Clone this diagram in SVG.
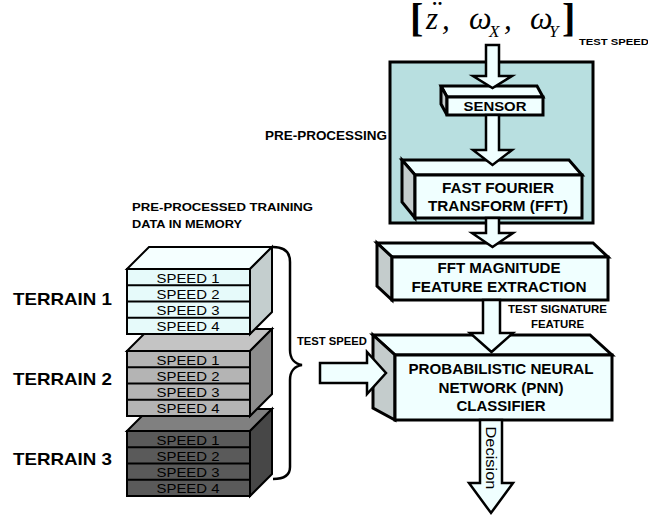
<svg xmlns="http://www.w3.org/2000/svg" width="648" height="518" viewBox="0 0 648 518">
<style>
.t{font-family:"Liberation Sans",Arial,sans-serif;fill:#000}
.b{font-weight:bold}
.m{font-family:"Liberation Serif","Times New Roman",serif;font-style:italic;fill:#000}
.br{font-family:"Liberation Serif","Times New Roman",serif;font-style:normal;font-weight:bold;fill:#000}
.box{stroke:#000;stroke-width:3;stroke-linejoin:miter}
.front{fill:#f0ffff}
.side{fill:#c4cccc}
.arr{fill:#f0ffff;stroke:#000;stroke-width:2.5;stroke-linejoin:miter}
.stk{stroke:#000;stroke-width:2;stroke-linejoin:miter}
.sp{font-family:"Liberation Sans",Arial,sans-serif;font-size:13px;text-anchor:middle;fill:#000}
</style>
<rect width="648" height="518" fill="#fff"/>

<!-- formula -->
<g id="formula">
<text class="br" x="410" y="31" font-size="40">[</text>
<text class="m" x="426" y="29" font-size="31">z</text>
<text class="m" x="430" y="23" font-size="31">¨</text>
<text class="m" x="442" y="29" font-size="31">,</text>
<text class="m" x="469" y="29" font-size="32">ω</text>
<text class="m" x="489" y="37" font-size="17">X</text>
<text class="m" x="504" y="29" font-size="31">,</text>
<text class="m" x="530" y="29" font-size="32">ω</text>
<text class="m" x="549" y="37" font-size="17">Y</text>
<text class="br" x="562" y="31" font-size="40">]</text>
<text class="t b" x="579" y="45" font-size="9" textLength="70" lengthAdjust="spacingAndGlyphs">TEST SPEED</text>
</g>

<!-- pre-processing container -->
<g id="preprocessing">
<rect x="390" y="62" width="203" height="161" fill="#b8dfe0" stroke="#000" stroke-width="3"/>
<text class="t b" x="265" y="140" font-size="13" textLength="122" lengthAdjust="spacingAndGlyphs">PRE-PROCESSING</text>
</g>

<!-- sensor -->
<g id="sensor">
<polygon class="box front" points="441,86 537,86 543,97 447,97"/>
<polygon class="box side" points="441,86 447,97 447,115 441,104"/>
<rect class="box front" x="447" y="97" width="96" height="18"/>
<text class="t b" x="495" y="111" font-size="13" text-anchor="middle" textLength="63" lengthAdjust="spacingAndGlyphs">SENSOR</text>
</g>

<!-- FFT -->
<g id="fft">
<polygon class="box front" points="402,160 569,160 582,175 415,175"/>
<polygon class="box side" points="402,160 415,175 415,218 402,202"/>
<rect class="box front" x="415" y="175" width="167" height="43"/>
<text class="t b" x="498" y="193" font-size="14" text-anchor="middle" textLength="112" lengthAdjust="spacingAndGlyphs">FAST FOURIER</text>
<text class="t b" x="498" y="211" font-size="14" text-anchor="middle" textLength="140" lengthAdjust="spacingAndGlyphs">TRANSFORM (FFT)</text>
</g>

<!-- FFT magnitude -->
<g id="fftmag">
<polygon class="box front" points="377,243 593,243 608,257 392,257"/>
<polygon class="box side" points="377,243 392,257 392,300 377,286"/>
<rect class="box front" x="392" y="257" width="216" height="43"/>
<text class="t b" x="499" y="273" font-size="14" text-anchor="middle" textLength="123" lengthAdjust="spacingAndGlyphs">FFT MAGNITUDE</text>
<text class="t b" x="499" y="292" font-size="14" text-anchor="middle" textLength="175" lengthAdjust="spacingAndGlyphs">FEATURE EXTRACTION</text>
<text class="t b" x="557.5" y="313" font-size="10" text-anchor="middle" textLength="99" lengthAdjust="spacingAndGlyphs">TEST SIGNATURE</text>
<text class="t b" x="557.5" y="328" font-size="10" text-anchor="middle" textLength="53" lengthAdjust="spacingAndGlyphs">FEATURE</text>
</g>

<!-- PNN -->
<g id="pnn">
<polygon class="box front" points="373,335 590,335 612,355 395,355"/>
<polygon class="box side" points="373,335 395,355 395,420 373,408"/>
<rect class="box front" x="395" y="355" width="217" height="65"/>
<text class="t b" x="501" y="374" font-size="14" text-anchor="middle" textLength="185" lengthAdjust="spacingAndGlyphs">PROBABILISTIC NEURAL</text>
<text class="t b" x="501" y="393" font-size="14" text-anchor="middle" textLength="125" lengthAdjust="spacingAndGlyphs">NETWORK (PNN)</text>
<text class="t b" x="501" y="411" font-size="14" text-anchor="middle" textLength="89" lengthAdjust="spacingAndGlyphs">CLASSIFIER</text>
</g>

<!-- training data stacks -->
<g id="training">
<text class="t b" x="132" y="211" font-size="11" textLength="181" lengthAdjust="spacingAndGlyphs">PRE-PROCESSED TRAINING</text>
<text class="t b" x="132" y="228" font-size="11" textLength="110" lengthAdjust="spacingAndGlyphs">DATA IN MEMORY</text>
</g>

<g id="terrain3">
<polygon class="stk" fill="#808080" points="127,431 149,409 272,409 250,431"/>
<polygon class="stk" fill="#474747" points="250,431 272,409 272,474 250,496"/>
<rect class="stk" x="127" y="431" width="123" height="65" fill="#5a5a5a"/>
<line class="stk" x1="127" y1="447.25" x2="250" y2="447.25"/>
<line class="stk" x1="127" y1="463.5" x2="250" y2="463.5"/>
<line class="stk" x1="127" y1="479.75" x2="250" y2="479.75"/>
<text class="sp" x="188" y="444.5" textLength="63" lengthAdjust="spacingAndGlyphs">SPEED 1</text>
<text class="sp" x="188" y="460.75" textLength="63" lengthAdjust="spacingAndGlyphs">SPEED 2</text>
<text class="sp" x="188" y="477" textLength="63" lengthAdjust="spacingAndGlyphs">SPEED 3</text>
<text class="sp" x="188" y="493.25" textLength="63" lengthAdjust="spacingAndGlyphs">SPEED 4</text>
<text class="t b" x="13" y="465" font-size="17" textLength="99" lengthAdjust="spacingAndGlyphs">TERRAIN 3</text>
</g>

<g id="terrain2">
<polygon class="stk" fill="#c4c4c4" points="127,351 149,329 272,329 250,351"/>
<polygon class="stk" fill="#8c8c8c" points="250,351 272,329 272,394 250,416"/>
<rect class="stk" x="127" y="351" width="123" height="65" fill="#b4b4b4"/>
<line class="stk" x1="127" y1="367.25" x2="250" y2="367.25"/>
<line class="stk" x1="127" y1="383.5" x2="250" y2="383.5"/>
<line class="stk" x1="127" y1="399.75" x2="250" y2="399.75"/>
<text class="sp" x="188" y="364.5" textLength="63" lengthAdjust="spacingAndGlyphs">SPEED 1</text>
<text class="sp" x="188" y="380.75" textLength="63" lengthAdjust="spacingAndGlyphs">SPEED 2</text>
<text class="sp" x="188" y="397" textLength="63" lengthAdjust="spacingAndGlyphs">SPEED 3</text>
<text class="sp" x="188" y="413.25" textLength="63" lengthAdjust="spacingAndGlyphs">SPEED 4</text>
<text class="t b" x="13" y="385" font-size="17" textLength="99" lengthAdjust="spacingAndGlyphs">TERRAIN 2</text>
</g>

<g id="terrain1">
<polygon class="stk" fill="#f5ffff" points="127,269 149,247 272,247 250,269"/>
<polygon class="stk" fill="#c4cece" points="250,269 272,247 272,312 250,334"/>
<rect class="stk" x="127" y="269" width="123" height="65" fill="#e6fafa"/>
<line class="stk" x1="127" y1="285.25" x2="250" y2="285.25"/>
<line class="stk" x1="127" y1="301.5" x2="250" y2="301.5"/>
<line class="stk" x1="127" y1="317.75" x2="250" y2="317.75"/>
<text class="sp" x="188" y="282.5" textLength="63" lengthAdjust="spacingAndGlyphs">SPEED 1</text>
<text class="sp" x="188" y="298.75" textLength="63" lengthAdjust="spacingAndGlyphs">SPEED 2</text>
<text class="sp" x="188" y="315" textLength="63" lengthAdjust="spacingAndGlyphs">SPEED 3</text>
<text class="sp" x="188" y="331.25" textLength="63" lengthAdjust="spacingAndGlyphs">SPEED 4</text>
<text class="t b" x="13" y="305" font-size="17" textLength="99" lengthAdjust="spacingAndGlyphs">TERRAIN 1</text>
</g>

<!-- connectors -->
<g id="connectors">
<path d="M273,247 C285,247 290,252 290,262 L290,350 C290,359 295,364 302,365 C295,366 290,371 290,380 L290,467 C290,475 285,479 273,479" fill="none" stroke="#000" stroke-width="2.5"/>
<text class="t b" x="297" y="345" font-size="10" textLength="70" lengthAdjust="spacingAndGlyphs">TEST SPEED</text>
<path class="arr" d="M486,45 L499,45 L499,76 L512,76 L492.5,88 L473,76 L486,76 Z"/>
<path class="arr" d="M486,115 L499,115 L499,150 L512,150 L492.5,165 L473,150 L486,150 Z"/>
<path class="arr" d="M486,218 L499,218 L499,233 L513,233 L492.5,247 L472,233 L486,233 Z"/>
<path class="arr" d="M483,300 L500,300 L500,333 L513,333 L491.5,352 L470,333 L483,333 Z"/>
<path class="arr" d="M320,363 L367,363 L367,352 L386,373 L367,394 L367,383 L320,383 Z"/>
<path class="arr" d="M480,420 L502,420 L502,483 L513,483 L491,513 L469,483 L480,483 Z"/>
<text class="t" transform="translate(491,458) rotate(90)" x="0" y="5" font-size="15" text-anchor="middle" textLength="63" lengthAdjust="spacingAndGlyphs">Decision</text>
</g>
</svg>
